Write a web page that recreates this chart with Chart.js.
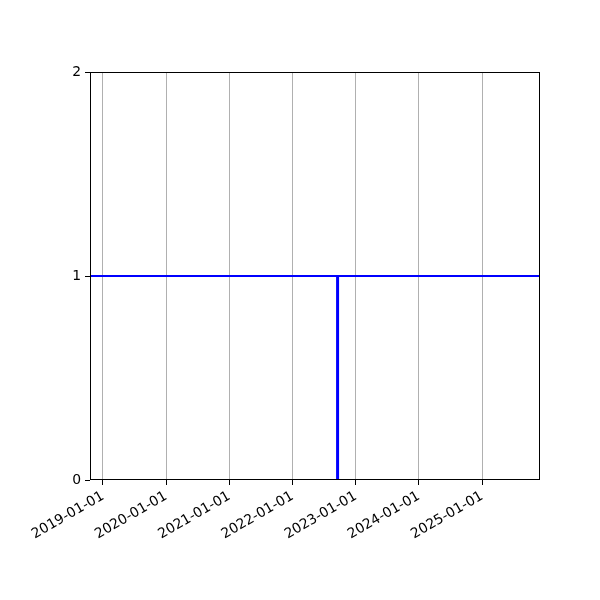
<!DOCTYPE html>
<html lang="en">
<head>
  <meta charset="UTF-8">
  <title>Step chart</title>
  <script src="https://cdn.jsdelivr.net/npm/chart.js"></script>
  <style>
    body { margin: 0; background: #fff; }
    #wrap { width: 600px; height: 600px; }
  </style>
</head>
<body>
  <div id="wrap"><canvas id="chart" width="600" height="600"></canvas></div>
  <script>
    const ts = s => Date.parse(s + 'T00:00:00Z');

    // axis range and ticks
    const xMin = ts('2018-10-18');
    const xMax = ts('2025-12-01');
    const tickDates = ['2019-01-01', '2020-01-01', '2021-01-01', '2022-01-01', '2023-01-01', '2024-01-01', '2025-01-01'];
    const yTicks = [0, 1, 2];

    // series
    const levelDates = ['2018-10-18', '2025-12-01'];
    const levelValues = [1, 1];
    const eventDates = ['2022-09-18', '2022-09-18'];
    const eventValues = [0, 1];

    const fmt = v => new Date(v).toISOString().slice(0, 10);

    // matplotlib style box round the plot area
    const frame = {
      id: 'frame',
      afterDraw(chart) {
        const { ctx, chartArea: a } = chart;
        const l = Math.round(a.left) + 0.5, t = Math.round(a.top) + 0.5;
        const r = Math.round(a.right) - 0.5, b = Math.round(a.bottom) - 0.5;
        ctx.save();
        ctx.strokeStyle = '#000';
        ctx.lineWidth = 1;
        ctx.strokeRect(l, t, r - l, b - t);
        ctx.restore();
      }
    };

    new Chart(document.getElementById('chart').getContext('2d'), {
      type: 'line',
      data: {
        datasets: [{
          data: levelDates.map((d, i) => ({ x: ts(d), y: levelValues[i] })),
          borderColor: '#0000ff',
          borderWidth: 2,
          pointRadius: 0
        }, {
          data: eventDates.map((d, i) => ({ x: ts(d), y: eventValues[i] })),
          borderColor: '#0000ff',
          borderWidth: 3,
          pointRadius: 0
        }]
      },
      options: {
        responsive: false,
        animation: false,
        layout: { padding: { top: 72, right: 60, left: 0, bottom: 0 } },
        plugins: { legend: { display: false }, tooltip: { enabled: false } },
        scales: {
          x: {
            type: 'linear',
            min: xMin,
            max: xMax,
            afterBuildTicks: s => { s.ticks = tickDates.map(d => ({ value: ts(d) })); },
            afterFit: s => { s.height = 120; },
            ticks: {
              callback: v => fmt(v),
              minRotation: 30,
              maxRotation: 30,
              color: '#000',
              padding: 3,
              font: { family: 'DejaVu Sans', size: 13.9 }
            },
            grid: { color: '#b0b0b0', lineWidth: 1, tickColor: '#000', tickLength: 5 },
            border: { display: false }
          },
          y: {
            min: 0,
            max: 2,
            afterBuildTicks: s => { s.ticks = yTicks.map(v => ({ value: v })); },
            afterFit: s => { s.width = 90; },
            ticks: {
              color: '#000',
              padding: 4,
              font: { family: 'DejaVu Sans', size: 13.9 }
            },
            grid: { drawOnChartArea: false, tickColor: '#000', tickLength: 5 },
            border: { display: false }
          }
        }
      },
      plugins: [frame]
    });
  </script>
</body>
</html>
